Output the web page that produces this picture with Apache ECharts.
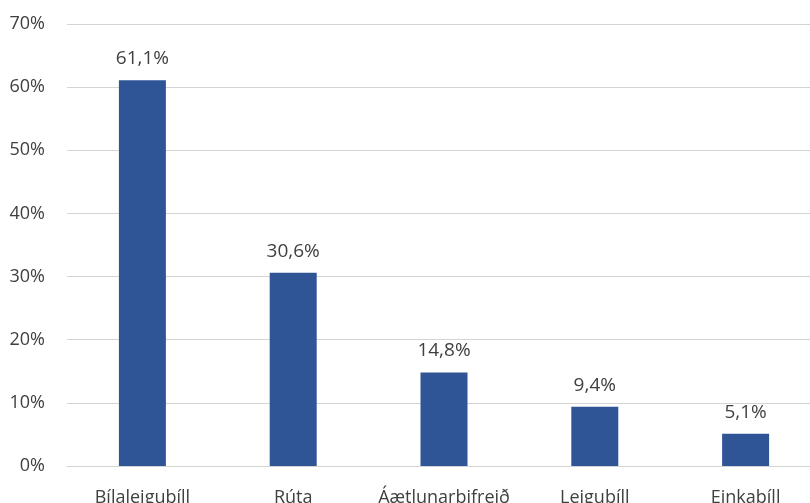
<!DOCTYPE html>
<html><head><meta charset="utf-8">
<script src="https://cdn.jsdelivr.net/npm/echarts@6/dist/echarts.min.js"></script>
<style>html,body{margin:0;padding:0;background:#fff;overflow:hidden;width:810px;height:503px}#c{width:821px;height:503px}</style>
</head><body><div id="c"></div>
<script>
const categories = ['Bílaleigubíll', 'Rúta', 'Áætlunarbifreið', 'Leigubíll', 'Einkabíll'];
const values = [61.1, 30.6, 14.8, 9.4, 5.1];
const font = '"Open Sans", sans-serif';
const chart = echarts.init(document.getElementById('c'));
chart.setOption({
  animation: false,
  grid: {left: 67, right: 0, top: 24, bottom: 37, containLabel: false, outerBoundsMode: 'none'},
  xAxis: {
    type: 'category', data: categories,
    axisLine: {lineStyle: {color: '#d4d4d4', width: 1}},
    axisTick: {show: false},
    axisLabel: {color: '#404040', fontSize: 18, fontFamily: font, margin: 23, interval: 0, hideOverlap: false}
  },
  yAxis: {
    type: 'value', min: 0, max: 70, interval: 10,
    axisLine: {show: false}, axisTick: {show: false},
    splitLine: {lineStyle: {color: '#d4d4d4', width: 1}},
    axisLabel: {color: '#404040', fontSize: 18, fontFamily: font, margin: 22, formatter: v => v + '%'}
  },
  series: [{
    type: 'bar', data: values, barWidth: 47,
    itemStyle: {color: '#2F5597'},
    label: {show: true, position: 'top', distance: 12, color: '#404040', fontSize: 19, fontFamily: font,
      formatter: p => p.value.toFixed(1).replace('.', ',') + '%'}
  }]
});
</script></body></html>
